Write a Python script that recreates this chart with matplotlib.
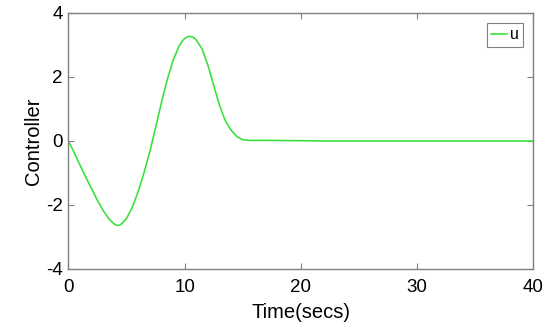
import matplotlib
matplotlib.use("Agg")
import matplotlib.pyplot as plt

plt.rcParams['font.family'] = ['Liberation Sans', 'DejaVu Sans']
plt.rcParams['axes.unicode_minus'] = False

time = [0.0, 0.5, 1.0, 1.5, 2.0, 2.5, 3.0, 3.5, 3.8, 4.0, 4.2, 4.4, 4.6, 5.0,
        5.5, 6.0, 6.5, 7.0, 7.5, 8.0, 8.5, 9.0, 9.5, 9.8, 10.0, 10.2, 10.4,
        10.6, 10.8, 11.0, 11.5, 12.0, 12.5, 13.0, 13.5, 14.0, 14.5, 15.0, 15.5,
        16.0, 17.0, 18.0, 20.0, 22.0, 25.0, 30.0, 35.0, 40.0]
u = [0.0, -0.37, -0.76, -1.14, -1.50, -1.86, -2.18, -2.44, -2.55, -2.61, -2.64,
     -2.63, -2.58, -2.42, -2.07, -1.58, -1.00, -0.34, 0.41, 1.19, 1.91, 2.51,
     2.95, 3.12, 3.20, 3.25, 3.27, 3.26, 3.23, 3.16, 2.88, 2.38, 1.75, 1.12,
     0.64, 0.34, 0.14, 0.04, 0.02, 0.02, 0.02, 0.015, 0.01, 0.0, 0.0, 0.0,
     0.0, 0.0]

xticks = [0, 10, 20, 30, 40]
yticks = [-4, -2, 0, 2, 4]

fig = plt.figure(figsize=(5.5, 3.29), dpi=100)
ax = fig.add_axes([0.1245, 0.1824, 0.8445, 0.7781])
ax.plot(time, u, color='#3ee03e', linewidth=1.2, label='u')
ax.set_xlim(0, 40)
ax.set_ylim(-4, 4)
ax.set_xticks(xticks)
ax.set_yticks(yticks)
ax.tick_params(direction='in', length=4, width=0.8, color='#808080',
               labelsize=13.5, top=True, right=True)
ax.tick_params(axis='x', pad=7)
ax.tick_params(axis='y', pad=4)
for s in ax.spines.values():
    s.set_color('#808080')
    s.set_linewidth(1.0)
ax.set_xlabel('Time(secs)', fontsize=14.5, labelpad=5)
ax.set_ylabel('Controller', fontsize=14.5, labelpad=2)
leg = ax.legend(loc='upper right', fontsize=11.5, handlelength=0.95,
                handletextpad=0.2, borderpad=0.3, fancybox=False,
                framealpha=1, edgecolor='#808080', borderaxespad=0.6)
leg.get_frame().set_linewidth(0.8)
fig.savefig('out.png', dpi=100)
